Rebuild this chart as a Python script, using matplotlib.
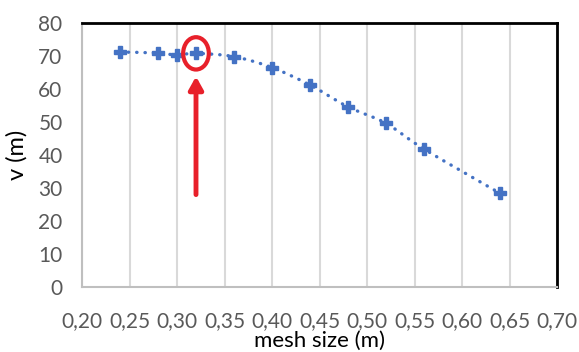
import matplotlib.pyplot as plt
import numpy as np
from matplotlib.path import Path
from matplotlib.patches import PathPatch, Ellipse

### DATA ###
mesh_size = [0.24, 0.28, 0.30, 0.32, 0.36, 0.40, 0.44, 0.48, 0.52, 0.56, 0.64]
v_values = [71.2, 70.9, 70.3, 70.8, 69.8, 66.5, 61.2, 54.6, 49.6, 41.8, 28.4]
x_ticks = [0.20, 0.25, 0.30, 0.35, 0.40, 0.45, 0.50, 0.55, 0.60, 0.65, 0.70]
y_ticks = [0, 10, 20, 30, 40, 50, 60, 70, 80]
chosen_idx = 3

### STYLE ###
blue = '#4472C4'
red = '#E8202A'
tick_color = '#595959'
grid_color = '#D9D9D9'
plt.rcParams['font.family'] = ['Liberation Sans Narrow', 'Lato', 'DejaVu Sans']


def smooth_path(x, y):
    # excel-like smoothed line: catmull-rom segments as cubic beziers
    x = np.asarray(x)
    y = np.asarray(y)
    verts = [(x[0], y[0])]
    codes = [Path.MOVETO]
    n = len(x)
    for i in range(n - 1):
        p0 = (x[max(i - 1, 0)], y[max(i - 1, 0)])
        p1 = (x[i], y[i])
        p2 = (x[i + 1], y[i + 1])
        p3 = (x[min(i + 2, n - 1)], y[min(i + 2, n - 1)])
        c1 = (p1[0] + (p2[0] - p0[0]) / 6, p1[1] + (p2[1] - p0[1]) / 6)
        c2 = (p2[0] - (p3[0] - p1[0]) / 6, p2[1] - (p3[1] - p1[1]) / 6)
        verts += [c1, c2, p2]
        codes += [Path.CURVE4] * 3
    return Path(verts, codes)


fig = plt.figure(figsize=(5.79, 3.52), dpi=100)
ax = fig.add_axes([82 / 579, 1 - 287 / 352, 475 / 579, 264 / 352])

ax.add_patch(PathPatch(smooth_path(mesh_size, v_values), fill=False,
                       edgecolor=blue, lw=2.4, linestyle=(0, (0.1, 2.4)),
                       capstyle='round', zorder=3))
ax.plot(mesh_size, v_values, linestyle='none', marker='P', markersize=9,
        color=blue, markeredgecolor=blue, zorder=4)

# highlight of the chosen mesh size
ax.add_patch(Ellipse((mesh_size[chosen_idx], v_values[chosen_idx]),
                     width=0.027, height=9.8, fill=False,
                     edgecolor=red, lw=3, zorder=5))
ax.annotate('', xy=(mesh_size[chosen_idx], 63.8),
            xytext=(mesh_size[chosen_idx], 28.0),
            arrowprops=dict(arrowstyle='-|>,head_length=0.75,head_width=0.42',
                            color=red, lw=3.5, shrinkA=0, shrinkB=0),
            zorder=5)

ax.set_xlim(0.20, 0.70)
ax.set_ylim(0, 80)
ax.set_xticks(x_ticks)
ax.set_xticklabels([f'{t:.2f}'.replace('.', ',') for t in x_ticks])
ax.set_yticks(y_ticks)
ax.tick_params(length=0, labelsize=15, colors=tick_color)
ax.tick_params(axis='x', pad=17)
ax.tick_params(axis='y', pad=14)
ax.xaxis.grid(True, color=grid_color, lw=1.5)
ax.set_axisbelow(True)

for side in ['left', 'bottom']:
    ax.spines[side].set_color('#BFBFBF')
    ax.spines[side].set_linewidth(1.5)
for side in ['top', 'right']:
    ax.spines[side].set_color('black')
    ax.spines[side].set_linewidth(2)

ax.set_xlabel('mesh size (m)', fontsize=16, color='black', labelpad=0)
ax.set_ylabel('v (m)', fontsize=17, color='black', labelpad=8)

fig.savefig('out.png', dpi=100)
